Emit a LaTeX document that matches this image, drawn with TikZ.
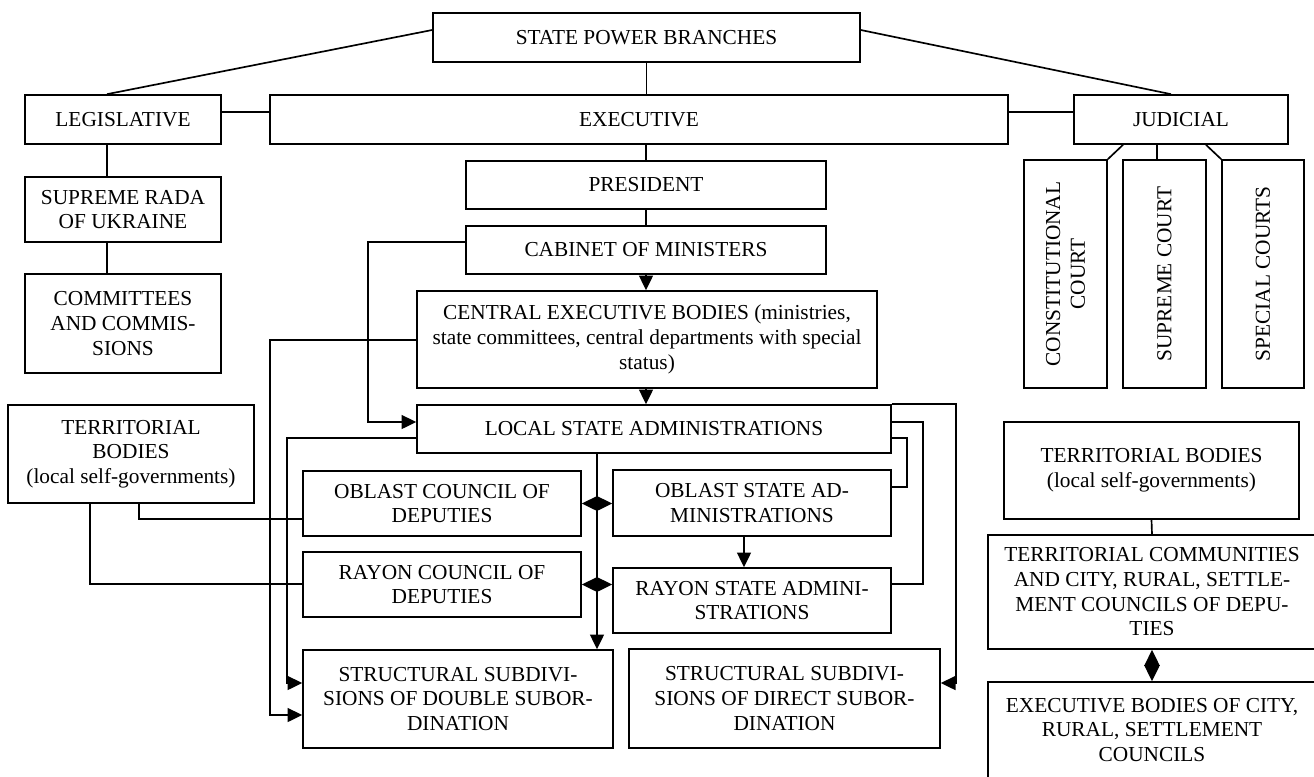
\documentclass[tikz,border=0pt]{standalone}
\usepackage{fontspec}
\setmainfont{Liberation Serif}
\usetikzlibrary{arrows.meta}
\tikzset{
 bx/.style={draw, line width=1.25pt, inner sep=1pt, align=center, font=\fontsize{16pt}{18.5pt}\selectfont},
 ln/.style={line width=1.25pt},
 arr/.style={ln, -{Triangle[length=11pt,width=10.5pt]}},
 dia/.style={ln, {Triangle[length=12pt,width=11.5pt]}-{Triangle[length=12pt,width=11.5pt]}},
}
\newcommand\bx[6]{\node[bx,minimum width={(#4-#2)*0.75pt},minimum height={(#5-#3)*0.75pt}] (#1) at ({(#2+#4)/2},{(#3+#5)/2}) {#6};}
\newcommand\vbx[6]{\node[bx,rotate=90,minimum width={(#5-#3)*0.75pt},minimum height={(#4-#2)*0.75pt}] (#1) at ({(#2+#4)/2},{(#3+#5)/2}) {#6};}
\begin{document}
\begin{tikzpicture}[x=0.75pt,y=-0.75pt]
\useasboundingbox (0,0) rectangle (1314,776);
\clip (0,0) rectangle (1314,776);
% boxes
\bx{spb}{433}{13}{860}{62}{STATE POWER BRANCHES}
\bx{leg}{25}{95}{221}{144}{LEGISLATIVE}
\bx{exe}{270}{95}{1008}{144}{EXECUTIVE}
\bx{jud}{1074}{95}{1288}{144}{JUDICIAL}
\bx{rada}{25}{177}{221}{242}{SUPREME RADA\\OF UKRAINE}
\bx{comm}{25}{274}{221}{373}{COMMITTEES\\AND COMMIS-\\SIONS}
\bx{pres}{466}{161}{826}{209}{PRESIDENT}
\bx{cab}{466}{226}{826}{274}{CABINET OF MINISTERS}
\bx{cen}{417}{291}{877}{388}{CENTRAL EXECUTIVE BODIES (ministries,\\state committees, central departments with special\\status)}
\bx{loc}{417}{405}{891}{453}{LOCAL STATE ADMINISTRATIONS}
\bx{terl}{8}{405}{254}{503}{TERRITORIAL\\BODIES\\(local self-governments)}
\bx{oblc}{303}{471}{581}{536}{OBLAST COUNCIL OF\\DEPUTIES}
\bx{rayc}{303}{552}{581}{617}{RAYON COUNCIL OF\\DEPUTIES}
\bx{dbl}{303}{650}{613}{748}{STRUCTURAL SUBDIVI-\\SIONS OF DOUBLE SUBOR-\\DINATION}
\bx{obls}{613}{470}{891}{536}{OBLAST STATE AD-\\MINISTRATIONS}
\bx{rays}{613}{568}{891}{633}{RAYON STATE ADMINI-\\STRATIONS}
\bx{dir}{629}{649}{940}{748}{STRUCTURAL SUBDIVI-\\SIONS OF DIRECT SUBOR-\\DINATION}
\bx{terr}{1004}{422}{1299}{519}{TERRITORIAL BODIES\\(local self-governments)}
\bx{tcom}{988}{535}{1316}{649}{TERRITORIAL COMMUNITIES\\AND CITY, RURAL, SETTLE-\\MENT COUNCILS OF DEPU-\\TIES}
\bx{exb}{988}{682}{1316}{778}{EXECUTIVE BODIES OF CITY,\\RURAL, SETTLEMENT\\COUNCILS}
\vbx{con}{1024}{160}{1107}{388}{CONSTITUTIONAL\\COURT}
\vbx{sup}{1123}{160}{1206}{388}{SUPREME COURT}
\vbx{spc}{1222}{160}{1304}{388}{SPECIAL COURTS}
% helper coordinates
\coordinate (ya) at (0,30);
\coordinate (yb) at (0,112);
\coordinate (xl) at (107,0);
\coordinate (xj) at (1171,0);
\coordinate (xc1) at (1123,0);
\coordinate (sj) at (1157,0);
\coordinate (xc3) at (1206,0);
\coordinate (xm) at (646,0);
\coordinate (yc) at (0,242);
\coordinate (xk) at (368,0);
\coordinate (yd) at (0,422);
\coordinate (ye) at (0,340);
\coordinate (xe) at (270,0);
\coordinate (yf) at (0,715);
\coordinate (yg) at (0,438);
\coordinate (xg) at (287,0);
\coordinate (yh) at (0,683);
\coordinate (xt1) at (139,0);
\coordinate (yt1) at (0,519);
\coordinate (xt2) at (90,0);
\coordinate (yt2) at (0,584);
\coordinate (vx) at (597,0);
\coordinate (xo) at (744,0);
\coordinate (xr1) at (923,0);
\coordinate (xr2) at (907,0);
\coordinate (yr2) at (0,487);
\coordinate (xr3) at (956,0);
% connectors
\draw[ln] (spb.west |- ya) -- (leg.north -| xl);
\draw[ln] (spb.east |- ya) -- (jud.north -| xj);
\draw[ln] (spb.south) -- (spb.south |- exe.north);
\draw[ln] (leg.east |- yb) -- (exe.west |- yb);
\draw[ln] (exe.east |- yb) -- (jud.west |- yb);
\draw[ln] (jud.south -| xc1) -- (con.south east);
\draw[ln] (jud.south -| sj) -- (sup.east -| sj);
\draw[ln] (jud.south -| xc3) -- (spc.north east);
\draw[ln] (leg.south -| xl) -- (rada.north -| xl);
\draw[ln] (rada.south -| xl) -- (comm.north -| xl);
\draw[ln] (exe.south -| xm) -- (pres.north -| xm);
\draw[ln] (pres.south -| xm) -- (cab.north -| xm);
\draw[arr] (cab.south -| xm) -- (cen.north -| xm);
\draw[arr] (cen.south -| xm) -- (loc.north -| xm);
\draw[arr] (cab.west |- yc) -| (xk |- yd) -- (loc.west |- yd);
\draw[arr] (cen.west |- ye) -| (xe |- yf) -- (dbl.west |- yf);
\draw[arr] (loc.west |- yg) -| (xg |- yh) -- (dbl.west |- yh);
\draw[ln] (terl.south -| xt1) |- (oblc.west |- yt1);
\draw[ln] (terl.south -| xt2) |- (rayc.west |- yt2);
\draw[arr] (loc.south -| vx) -- (dbl.north -| vx);
\draw[dia] (oblc.east) -- (obls.west |- oblc.east);
\draw[dia] (rayc.east) -- (rays.west |- rayc.east);
\draw[arr] (obls.south -| xo) -- (rays.north -| xo);
\draw[ln] (loc.east |- yd) -| (xr1 |- yt2) -- (rays.east |- yt2);
\draw[ln] (loc.east |- yg) -| (xr2 |- yr2) -- (obls.east |- yr2);
\draw[arr] (loc.north east) -| (xr3 |- yh) -- (dir.east |- yh);
\draw[ln] (terr.south) -- (tcom.north);
\draw[dia] (tcom.south) -- (exb.north);
\end{tikzpicture}
\end{document}
